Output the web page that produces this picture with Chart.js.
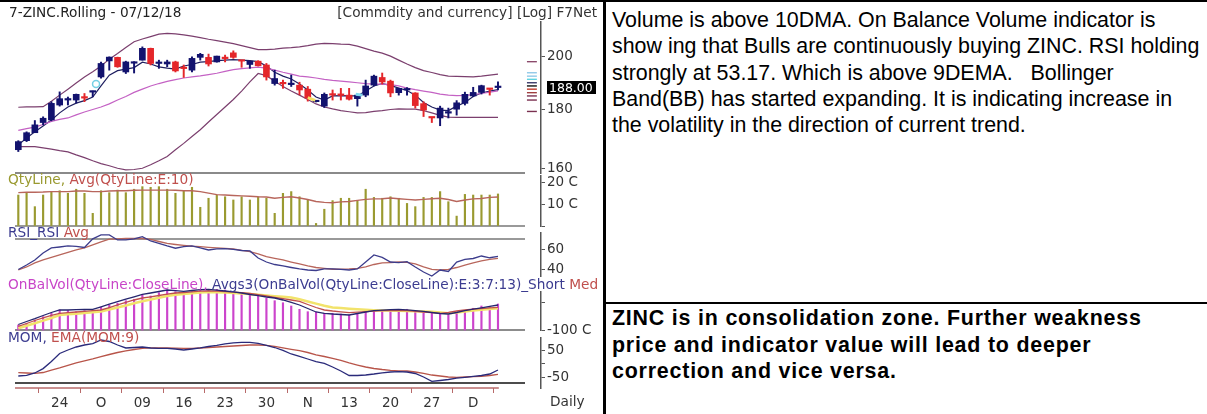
<!DOCTYPE html>
<html>
<head>
<meta charset="utf-8">
<script src="https://cdn.jsdelivr.net/npm/chart.js@4.4.1/dist/chart.umd.min.js"></script>
<style>
  body { margin: 0; background: #fff; }
  #wrap { position: relative; width: 1207px; height: 414px; overflow: hidden; font-family: 'DejaVu Sans', Verdana, sans-serif; }
  canvas.pane { position: absolute; left: 0; top: 0; }
  .lbl { position: absolute; font-size: 13.7px; line-height: 15px; white-space: nowrap; color: #222; }
  .note { position: absolute; left: 612px; font-family: 'Liberation Sans', Arial, sans-serif; font-size: 21.4px; color: #000; white-space: nowrap; }
  .rule { position: absolute; background: #000; }
</style>
</head>
<body>
<div id="wrap">
  <canvas id="price" class="pane" width="600" height="414"></canvas>
  <canvas id="vol" class="pane" width="600" height="414"></canvas>
  <canvas id="rsi" class="pane" width="600" height="414"></canvas>
  <canvas id="obv" class="pane" width="600" height="414"></canvas>
  <canvas id="mom" class="pane" width="600" height="414"></canvas>

  <div class="lbl" style="left:9px;top:5px;">7-ZINC.Rolling - 07/12/18</div>
  <div class="lbl" style="right:610px;top:5px;color:#333;">[Commdity and currency] [Log] F7Net</div>
  <div class="lbl" style="left:8px;top:172px;"><span style="color:#9a9a30">QtyLine, </span><span style="color:#c0504d">Avg(QtyLine:E:10)</span></div>
  <div class="lbl" style="left:8px;top:225px;"><span style="color:#3c3c90">RSI_RSI </span><span style="color:#c0504d">Avg</span></div>
  <div class="lbl" style="left:8px;top:277px;"><span style="color:#c845c8">OnBalVol(QtyLine:CloseLine), </span><span style="color:#3c3c90">Avgs3(OnBalVol(QtyLine:CloseLine):E:3:7:13)_Short </span><span style="color:#c0504d">Med</span></div>
  <div class="lbl" style="left:8px;top:330px;"><span style="color:#3c3c90">MOM, </span><span style="color:#c0504d">EMA(MOM:9)</span></div>
  <div class="lbl" style="left:550px;top:394px;color:#333;">Daily</div>

  <div class="rule" style="left:0;top:0;width:1207px;height:2px;"></div>
  <div class="rule" style="left:603px;top:0;width:3px;height:414px;"></div>
  <div class="rule" style="left:606px;top:302px;width:601px;height:2px;"></div>

  <div class="note" style="top:7px;line-height:26.3px;">Volume is above 10DMA. On Balance Volume indicator is<br>show ing that Bulls are continuously buying ZINC. RSI holding<br>strongly at 53.17. Which is above 9DEMA. &nbsp; Bollinger<br>Band(BB) has started expanding. It is indicating increase in<br>the volatility in the direction of current trend.</div>
  <div class="note" style="top:305px;line-height:26.5px;font-weight:bold;letter-spacing:0.8px;">ZINC is in consolidation zone. Further weakness<br>price and indicator value will lead to deeper<br>correction and vice versa.</div>
</div>

<script>
const days = ['', '', '', '', '', '24', '', '', '', '', 'O', '', '', '', '', '09', '', '', '', '',
    '16', '', '', '', '', '23', '', '', '', '', '30', '', '', '', '', 'N', '', '', '', '',
    '13', '', '', '', '', '20', '', '', '', '', '27', '', '', '', '', 'D', '', '', ''];

const opens = [166.1, 169.1, 171.8, 175.3, 176.2, 181.5, 183.3, 183.3, 184.4, 186.2,
    191.9, 198.1, 199.5, 193.8, 197.2, 198.4, 203.1, 197.1, 196.9, 197.7,
    195.3, 194.5, 199.5, 199.5, 197.7, 199.2, 201.3, 198.2, 196.7, 198.0,
    196.5, 189.4, 189.5, 189.0, 188.8, 187.3, 182.7, 181.1, 185.2, 185.2,
    185.1, 183.8, 185.1, 188.8, 191.7, 190.3, 186.0, 187.0, 185.9, 182.0,
    177.1, 176.9, 178.6, 180.0, 182.1, 184.8, 186.1, 187.3, 187.9];
const highs = [169.1, 172.1, 176.0, 177.3, 182.7, 186.3, 184.4, 185.5, 185.7, 186.6,
    197.6, 199.7, 199.6, 198.0, 197.8, 203.7, 203.2, 198.4, 198.4, 198.0,
    196.5, 199.7, 201.1, 200.8, 200.0, 200.4, 202.1, 198.2, 198.0, 198.2,
    197.1, 194.5, 190.7, 192.6, 189.9, 188.3, 183.0, 185.9, 187.0, 187.6,
    187.6, 185.1, 190.7, 192.6, 193.4, 190.7, 187.7, 187.9, 186.0, 182.7,
    177.1, 181.1, 180.4, 183.1, 186.2, 188.0, 188.8, 187.3, 190.0];
const lows = [165.5, 168.8, 171.8, 174.5, 175.9, 181.1, 181.5, 182.2, 182.7, 184.5,
    191.4, 194.5, 195.6, 193.2, 193.4, 198.4, 196.5, 195.2, 195.8, 193.8,
    191.7, 193.8, 198.4, 196.1, 197.6, 197.7, 199.1, 195.6, 195.2, 196.1,
    190.7, 188.8, 187.6, 188.3, 185.2, 182.9, 182.6, 180.6, 183.3, 183.3,
    183.3, 181.1, 184.5, 188.5, 189.2, 184.5, 185.1, 185.1, 180.4, 177.4,
    175.3, 174.2, 176.9, 177.9, 181.5, 184.5, 185.5, 185.1, 187.0];
const closes = [168.8, 171.8, 174.5, 176.8, 182.1, 183.8, 183.6, 185.4, 184.0, 186.4,
    197.1, 199.6, 195.8, 197.7, 197.7, 203.1, 197.1, 197.2, 197.7, 194.2,
    195.1, 199.1, 200.7, 196.9, 200.0, 199.0, 199.5, 198.0, 198.0, 196.2,
    191.9, 191.3, 189.3, 189.2, 187.0, 184.0, 182.9, 185.4, 185.1, 185.0,
    183.6, 185.1, 188.5, 192.2, 190.0, 185.9, 187.6, 187.5, 181.3, 179.7,
    176.9, 180.4, 178.7, 182.3, 185.4, 186.1, 188.6, 187.2, 188.0];

const bbUpper = [180.7, 180.8, 180.8, 180.9, 182.9, 185.1, 187.3, 189.6, 191.9, 193.9,
    196.1, 198.8, 201.0, 203.4, 205.8, 206.9, 207.9, 208.9, 209.2, 209.0,
    208.6, 208.1, 207.5, 206.8, 206.2, 205.6, 205.0, 204.2, 203.4, 202.6,
    202.6, 202.8, 203.2, 203.4, 203.7, 204.2, 204.8, 205.1, 205.0, 204.8,
    204.7, 204.0, 203.0, 202.0, 201.2, 200.0, 198.4, 196.9, 195.5, 194.3,
    193.6, 192.8, 192.2, 192.1, 192.0, 191.9, 192.2, 192.6, 193.0];
const bbMid = [172.6, 173.2, 173.7, 174.6, 175.7, 176.4, 176.9, 178.0, 179.0, 179.9,
    180.8, 181.9, 183.3, 184.6, 186.1, 187.3, 188.5, 189.4, 190.2, 190.9,
    191.5, 191.9, 192.3, 192.8, 193.3, 194.0, 194.7, 195.1, 195.4, 195.7,
    195.3, 194.5, 193.7, 193.0, 192.2, 191.9, 191.5, 191.0, 190.6, 190.3,
    190.0, 189.7, 189.4, 189.2, 189.2, 189.0, 188.5, 187.7, 187.1, 186.6,
    186.1, 185.5, 185.1, 184.9, 185.0, 185.3, 185.7, 186.2, 186.7];
const bbLower = [167.1, 167.1, 167.1, 166.7, 166.3, 165.8, 165.4, 164.4, 163.5, 162.5,
    161.6, 160.9, 160.1, 159.6, 159.7, 160.1, 161.2, 162.5, 163.9, 166.1,
    168.2, 170.5, 172.8, 175.5, 178.1, 180.8, 183.5, 186.6, 190.0, 193.2,
    192.4, 190.3, 188.3, 186.6, 185.1, 183.5, 181.9, 180.8, 180.1, 179.5,
    179.1, 178.7, 178.8, 179.2, 179.5, 179.9, 180.1, 180.0, 180.0, 179.5,
    178.7, 177.8, 177.2, 177.1, 177.1, 177.1, 177.1, 177.1, 177.1];
const shortAvg = [167.7, 170.0, 172.1, 174.1, 176.2, 178.7, 180.8, 182.2, 183.1, 184.4,
    188.5, 192.6, 194.3, 194.9, 195.5, 197.6, 196.9, 195.8, 195.3, 194.9,
    196.1, 196.7, 197.6, 197.8, 198.2, 198.4, 198.6, 198.4, 198.2, 197.8,
    196.1, 193.7, 192.2, 191.1, 189.2, 187.0, 184.4, 183.3, 184.8, 184.9,
    184.8, 184.8, 186.6, 188.5, 189.4, 188.7, 187.7, 186.8, 185.1, 182.4,
    180.8, 179.7, 179.5, 181.1, 182.4, 184.6, 185.9, 186.6, 187.1];

// signal marks on the price pane: [bar, price]
const signalCircle = [9.4, 189.2];
const yellowMark = [[35.0, 184.2], [35.9, 183.2]];
const cyanMark = [[40.8, 185.4], [41.6, 185.1]];
// small level swatches next to the price axis
const levelValues = [197.8, 193.5, 192.2, 191.0, 189.7, 188.5, 187.3, 186.0, 184.8, 183.3, 179.2];
const levelColors = ['#8b4a6b', '#8fc8e8', '#8fc8e8', '#5fd3e0', '#3a3a6a', '#111111',
    '#c0392b', '#a04040', '#7a3050', '#7a3050', '#7a3050'];

const volume = [14.4, 15.2, 9.0, 14.4, 16.0, 16.4, 15.2, 17.1, 15.2, 5.9,
    16.4, 15.5, 16.7, 15.5, 17.1, 18.3, 18.0, 18.3, 17.1, 15.2,
    16.4, 18.0, 8.7, 12.9, 14.4, 13.6, 12.1, 13.6, 12.1, 13.6,
    12.9, 5.9, 15.2, 16.0, 13.6, 12.1, 1.2, 7.8, 11.8, 12.9,
    12.9, 11.8, 17.1, 13.3, 12.9, 13.6, 12.9, 10.5, 9.0, 13.3,
    13.3, 16.0, 11.3, 4.6, 14.7, 14.4, 14.4, 14.4, 14.9];
const volAvg = [15.5, 15.7, 15.7, 15.8, 16.0, 16.0, 16.0, 16.3, 16.3, 16.0,
    16.0, 16.3, 16.4, 16.4, 16.6, 16.7, 16.7, 16.7, 16.7, 16.6,
    16.4, 16.4, 16.0, 15.3, 14.6, 14.4, 14.2, 14.0, 13.8, 13.6,
    13.5, 12.9, 13.3, 13.6, 13.0, 12.3, 11.4, 11.0, 10.8, 11.2,
    11.4, 11.9, 12.4, 12.6, 12.7, 13.0, 12.7, 12.4, 12.1, 12.4,
    12.7, 12.9, 12.3, 11.4, 12.1, 12.6, 12.8, 13.3, 13.5];

const rsi = [40.5, 44.8, 49.7, 56.4, 61.3, 62.2, 63.2, 62.7, 61.7, 70.0,
    73.8, 73.8, 69.0, 69.0, 70.0, 72.2, 68.0, 65.6, 63.2, 61.0,
    62.5, 63.2, 61.3, 59.3, 60.3, 60.6, 59.8, 58.8, 58.4, 51.6,
    47.7, 45.3, 43.9, 42.4, 41.0, 40.0, 39.5, 41.0, 41.0, 40.5,
    40.0, 41.0, 47.7, 54.5, 52.1, 47.7, 47.2, 48.0, 42.9, 38.1,
    34.2, 40.0, 38.6, 47.7, 50.2, 51.1, 53.5, 51.8, 53.2];
const rsiAvg = [40.0, 42.9, 46.8, 49.7, 52.1, 54.5, 56.9, 59.3, 61.3, 64.2,
    67.1, 69.7, 70.0, 70.4, 70.6, 70.4, 69.5, 67.5, 65.6, 64.6,
    63.7, 62.9, 62.5, 61.9, 61.3, 60.8, 60.3, 59.0, 57.7, 55.5,
    53.0, 51.3, 49.7, 47.7, 45.8, 43.9, 42.4, 41.5, 40.7, 40.7,
    41.0, 41.5, 42.9, 45.3, 46.8, 47.2, 47.7, 47.4, 45.8, 42.9,
    40.5, 40.0, 40.5, 42.4, 44.8, 46.8, 48.7, 50.2, 51.3];

const obv = [-81.4, -75.1, -62.9, -50.7, -38.1, -25.9, -28.5, -32.2, -28.5, -25.9,
    -15.9, -7.4, -1.1, 8.5, 13.7, 29.6, 25.9, 38.1, 48.1, 41.8,
    38.1, 41.8, 50.7, 48.1, 50.7, 48.1, 38.1, 35.9, 33.3, 25.9,
    17.4, 8.5, 1.1, -11.1, -23.3, -32.2, -34.4, -38.1, -38.1, -40.7,
    -44.4, -40.7, -32.2, -25.9, -25.9, -32.2, -25.9, -23.3, -28.5, -32.2,
    -38.1, -38.1, -41.8, -35.9, -32.2, -19.6, -11.1, -13.7, -3.7];
const obvShort = [-79.6, -68.5, -58.1, -46.3, -35.2, -25.9, -25.9, -24.8, -24.1, -23.3,
    -14.1, -4.4, 4.8, 14.1, 22.9, 31.5, 37.0, 42.6, 48.1, 45.5,
    42.9, 46.3, 49.2, 50.7, 47.4, 44.4, 41.4, 37.0, 31.5, 27.0,
    22.2, 18.5, 11.1, 1.9, -7.4, -20.4, -33.3, -38.1, -40.7, -42.6,
    -44.4, -38.9, -33.3, -28.5, -26.6, -24.4, -23.3, -25.5, -28.1, -31.1,
    -35.2, -38.9, -40.7, -35.2, -28.5, -22.9, -17.8, -12.2, -7.4];
const obvMed = [-86.9, -75.9, -64.8, -54.8, -46.3, -38.1, -35.5, -33.3, -30.7, -28.1,
    -25.9, -16.7, -7.4, 1.9, 11.1, 18.5, 22.9, 27.8, 32.6, 37.0,
    38.9, 41.1, 43.7, 45.1, 43.7, 41.8, 40.0, 38.1, 35.2, 30.7,
    25.9, 21.1, 16.3, 11.1, 5.6, -5.6, -16.7, -25.9, -29.6, -32.6,
    -35.5, -34.0, -32.2, -30.3, -28.5, -28.5, -28.5, -28.5, -30.7, -33.3,
    -35.9, -38.1, -34.4, -29.6, -25.9, -22.9, -20.4, -17.8, -15.9];
const obvLong = [-93.6, -84.4, -75.1, -65.1, -55.5, -44.4, -41.8, -39.6, -37.0, -34.4,
    -31.5, -24.1, -16.7, -9.3, -1.1, 6.3, 13.0, 19.2, 25.5, 30.3,
    33.3, 36.3, 38.9, 41.1, 40.0, 38.5, 37.0, 35.2, 32.9, 30.3,
    27.8, 25.2, 23.0, 20.0, 14.1, 5.6, -2.2, -10.0, -16.3, -18.5,
    -21.1, -23.3, -25.2, -26.6, -27.4, -27.8, -28.5, -29.6, -30.7, -31.5,
    -32.6, -35.2, -37.7, -35.2, -31.5, -27.8, -24.8, -22.2, -19.6];

const mom = [-45.1, -42.5, -33.8, -17.3, 9.4, 39.5, 52.6, 63.9, 71.4, 76.3,
    90.2, 84.6, 71.4, 60.2, 62.0, 63.9, 60.2, 59.0, 59.0, 56.4,
    52.6, 56.4, 60.2, 65.8, 69.6, 75.9, 79.0, 81.2, 81.6, 77.1,
    69.6, 62.0, 50.8, 37.6, 28.2, 18.8, 8.6, 2.6, -11.3, -26.3,
    -43.2, -43.2, -41.4, -37.6, -33.1, -30.1, -29.0, -30.1, -35.7, -48.9,
    -65.1, -62.0, -58.3, -53.4, -50.0, -46.3, -43.2, -37.6, -22.6];
const momEma = [-32.7, -33.8, -35.0, -32.0, -22.6, -15.0, -5.6, 3.8, 11.3, 18.8,
    27.4, 35.7, 43.2, 49.6, 54.5, 59.0, 60.9, 60.9, 60.2, 59.4,
    59.0, 59.0, 60.2, 62.0, 63.9, 65.8, 67.7, 69.6, 71.4, 71.4,
    70.3, 66.5, 60.9, 55.3, 50.0, 43.2, 34.6, 28.2, 20.7, 13.2,
    3.8, -3.8, -11.3, -16.9, -20.7, -23.7, -25.6, -26.3, -30.1, -35.0,
    -41.4, -45.1, -48.9, -50.0, -48.9, -47.8, -46.3, -43.2, -38.7];

const priceTicks = [160, 180, 200];
const volTicks = [0, 10, 20];
const rsiTicks = [40, 60];
const obvTicks = [-100, 0];
const momTicks = [-50, 0, 50];

Chart.defaults.font.family = "'DejaVu Sans', Verdana, sans-serif";
Chart.defaults.font.size = 13.5;
Chart.defaults.animation = false;

const UP = '#12126e', DOWN = '#e4262a';
const xy = arr => arr.map((v, i) => ({ x: i, y: v }));
const candleColor = ctx => closes[ctx.dataIndex] >= opens[ctx.dataIndex] ? UP : DOWN;

// horizontal separators / baselines
const hLines = {
    id: 'hLines',
    defaults: { lines: [] },
    beforeDatasetsDraw(chart, args, opts) {
        const { ctx, chartArea: a, scales } = chart;
        opts.lines.forEach(l => {
            let y = l.value !== undefined ? scales.y.getPixelForValue(l.value) : a.bottom + (l.dy || 0);
            y = Math.round(y);
            const x1 = l.toIndex !== undefined ? scales.x.getPixelForValue(l.toIndex) : a.right - 16;
            ctx.save();
            ctx.strokeStyle = l.color;
            ctx.lineWidth = l.width;
            ctx.beginPath();
            ctx.moveTo(a.left, y);
            ctx.lineTo(x1, y);
            ctx.stroke();
            ctx.restore();
        });
    }
};
Chart.register(hLines);

const lastLabel = {
    id: 'lastLabel',
    afterDraw(chart) {
        const { ctx, chartArea: a, scales } = chart;
        const last = closes[closes.length - 1];
        const y = scales.y.getPixelForValue(last);
        const x = a.right + 6;
        ctx.save();
        ctx.fillStyle = '#000';
        ctx.fillRect(x, Math.round(y - 6), 49, 13);
        ctx.fillStyle = '#fff';
        ctx.font = "12.5px 'DejaVu Sans'";
        ctx.textBaseline = 'middle';
        ctx.fillText(last.toFixed(2), x + 2, y + 1);
        ctx.restore();
    }
};

function yAxis(type, min, max, ticks, label) {
    return {
        type: type, position: 'right', min: min, max: max,
        afterFit: s => { s.width = 59; },
        afterBuildTicks: s => { s.ticks = ticks.map(v => ({ value: v })); },
        grid: { drawOnChartArea: false, drawTicks: true, tickLength: 4, color: '#555' },
        border: { display: true, color: '#555', width: 1.5 },
        ticks: { autoSkip: false, padding: 2, color: '#333', callback: label }
    };
}

const hiddenX = { type: 'linear', min: -0.4, max: 63.2, offset: false, display: false };

function makeChart(id, top, bottom, datasets, y, extra) {
    extra = extra || {};
    return new Chart(document.getElementById(id), {
        type: 'bar',
        data: { datasets: datasets },
        options: {
            responsive: false,
            maintainAspectRatio: false,
            layout: { padding: { left: 15, right: 0, top: top, bottom: 414 - bottom } },
            scales: { x: extra.x || hiddenX, y: y },
            plugins: {
                legend: { display: false },
                tooltip: { enabled: false },
                hLines: { lines: extra.lines || [] }
            }
        },
        plugins: extra.plugins || []
    });
}

function line(data, color, width, order) {
    return { type: 'line', data: xy(data), borderColor: color, borderWidth: width,
        pointRadius: 0, tension: 0, fill: false, clip: false, order: order === undefined ? 3 : order };
}

// price pane
const priceSets = [
    line(bbUpper, '#7b3f6e', 1.2),
    line(bbLower, '#7b3f6e', 1.2),
    line(bbMid, '#c462c4', 1.2),
    line(shortAvg, '#1f1f60', 1.2),
    { type: 'bar', data: lows.map((l, i) => ({ x: i, y: [l, highs[i]] })), backgroundColor: candleColor,
        barThickness: 1.3, grouped: false, order: 2 },
    { type: 'bar', data: opens.map((o, i) => ({ x: i, y: [o, closes[i]] })), backgroundColor: candleColor,
        barThickness: 6, minBarLength: 1.5, grouped: false, order: 1 },
    { type: 'line', data: [{ x: signalCircle[0], y: signalCircle[1] }], showLine: false, pointRadius: 3.5,
        pointBorderColor: '#74d0e4', pointBackgroundColor: 'rgba(0,0,0,0)', pointBorderWidth: 1.5, order: 0 },
    { type: 'line', data: yellowMark.map(p => ({ x: p[0], y: p[1] })), borderColor: '#f3df6a', borderWidth: 3,
        pointRadius: 0, order: 0 },
    { type: 'line', data: cyanMark.map(p => ({ x: p[0], y: p[1] })), borderColor: '#7fd8ee', borderWidth: 3,
        pointRadius: 0, order: 0 }
];
levelValues.forEach((v, k) => {
    priceSets.push({ type: 'line', data: [{ x: 61.5, y: v }, { x: 62.7, y: v }], borderColor: levelColors[k],
        borderWidth: 1.4, pointRadius: 0, order: 0 });
});
makeChart('price', 22, 173, priceSets,
    yAxis('logarithmic', 158.6, 214.0, priceTicks, v => String(v)),
    { lines: [{ dy: 0, color: '#8a8a8a', width: 2 }], plugins: [lastLabel] });

// volume pane
makeChart('vol', 176, 226, [
    line(volAvg, '#b8665c', 1.4),
    { type: 'bar', data: xy(volume), backgroundColor: '#9a9a30', barThickness: 1.5, grouped: false, order: 4 }
], yAxis('linear', 0, 23.25, volTicks, v => v === 0 ? '' : v + ' C'),
    { lines: [{ value: 0, color: '#777', width: 1.5 }] });

// RSI pane
makeChart('rsi', 233, 276, [
    line(rsiAvg, '#b8665c', 1.3),
    line(rsi, '#3c3c8c', 1.3, 2)
], yAxis('linear', 34.2, 75.7, rsiTicks, v => String(v)),
    { lines: [{ value: 70, color: '#777', width: 1.5 }] });

// OBV pane
makeChart('obv', 292, 330, [
    { type: 'bar', data: obv.map((v, i) => ({ x: i, y: [-100, v] })), backgroundColor: '#cc44cc',
        barThickness: 1.5, grouped: false, order: 5, clip: false },
    line(obvLong, '#f2e36b', 2.5, 4),
    line(obvMed, '#c0504d', 1.3, 3),
    line(obvShort, '#26266e', 1.3, 2)
], yAxis('linear', -100, 40.7, obvTicks, v => v === -100 ? '-100 C' : ''),
    { lines: [{ value: -100, color: '#666', width: 1.5 }] });

// MOM pane with the date axis (chart area ends at 388, axis box 20px below it)
makeChart('mom', 338, 408, [
    line(momEma, '#b8554a', 1.3),
    line(mom, '#2a2a7a', 1.3, 2)
], yAxis('linear', -90.2, 97.7, momTicks, v => v === 0 ? '' : String(v)), {
    x: {
        type: 'linear', min: -0.4, max: 63.2, offset: false, position: 'bottom',
        afterFit: s => { s.height = 20; },
        afterBuildTicks: s => {
            s.ticks = days.map((d, i) => ({ value: i, d: d })).filter(t => t.d).map(t => ({ value: t.value }));
        },
        ticks: { autoSkip: false, maxRotation: 0, padding: 2, color: '#333', callback: v => days[v] },
        grid: { drawOnChartArea: false, drawTicks: true, tickLength: 5, color: '#b86a6a' },
        border: { display: false }
    },
    lines: [{ dy: -5, color: '#111', width: 1.5 }, { dy: 0, color: '#b86a6a', width: 1.5, toIndex: 58.1 }]
});
</script>
</body>
</html>
